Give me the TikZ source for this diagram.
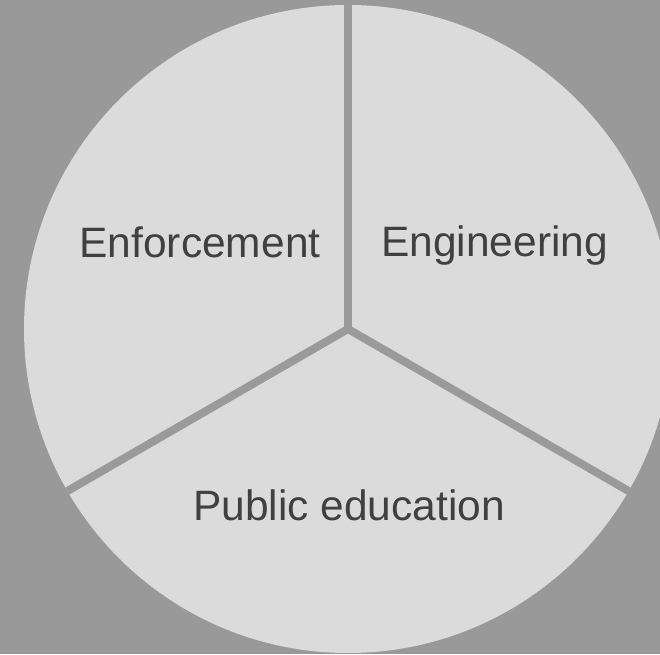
\documentclass[tikz,border=0pt]{standalone}
\usepackage{fontspec}
\setmainfont{Liberation Sans}
\definecolor{bg}{HTML}{999999}
\definecolor{disk}{HTML}{DBDBDB}
\definecolor{spoke}{HTML}{9A9A9A}
\definecolor{txt}{HTML}{404040}
\begin{document}
\begin{tikzpicture}[x=1pt,y=1pt,
  spokeline/.style={draw=spoke,line width=8pt},
  label/.style={anchor=base,text=txt,font=\fontsize{42.5}{50}\selectfont,inner sep=0pt}]
\fill[bg] (0,0) rectangle (660,654);
\useasboundingbox (0,0) rectangle (660,654);
\clip (0,0) rectangle (660,654);
\coordinate (c) at (348,325);
\fill[disk] (c) circle (324);
\coordinate (t) at (348,660);
\coordinate (l) at ([shift={(210:330)}]c);
\coordinate (r) at ([shift={(330:330)}]c);
\begin{scope}
\clip (c) circle (324);
\draw[spokeline] (c) -- (t);
\draw[spokeline] (c) -- (l);
\draw[spokeline] (c) -- (r);
\end{scope}
\node[label] (enf) at (200,396) {Enforcement};
\node[label] (eng) at (494.5,398) {Engineering};
\node[label] (pub) at (349,134) {Public education};
\end{tikzpicture}
\end{document}
